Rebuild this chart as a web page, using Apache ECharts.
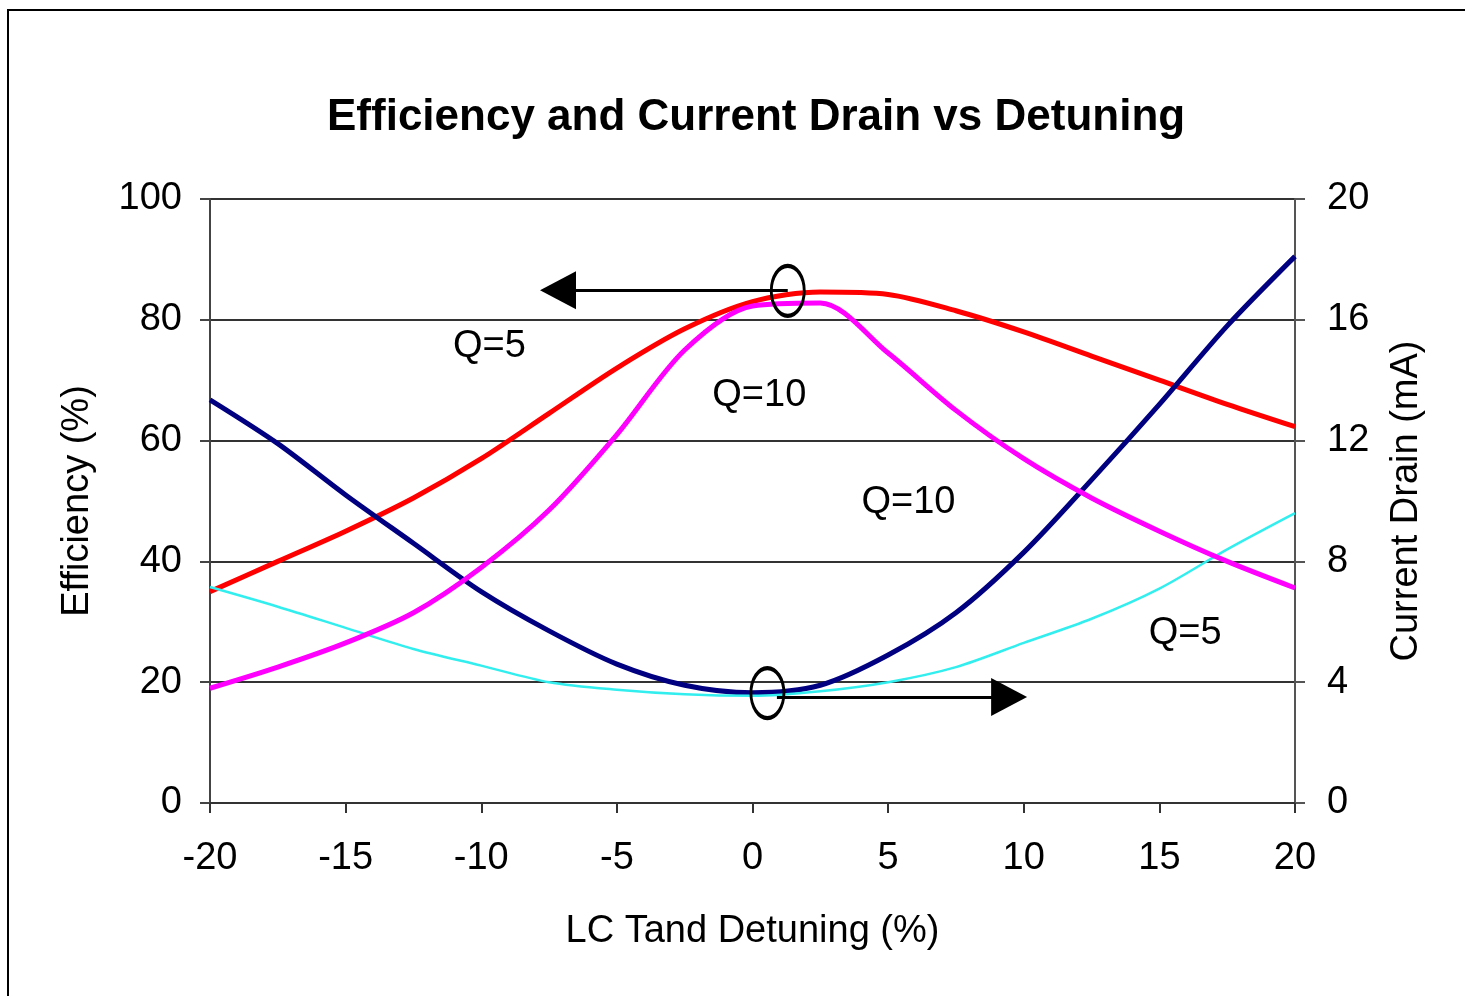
<!DOCTYPE html>
<html>
<head>
<meta charset="utf-8">
<script src="https://cdn.jsdelivr.net/npm/echarts@6/dist/echarts.min.js"></script>
<style>
html,body{margin:0;padding:0;background:#fff;}
#chart{width:1465px;height:996px;}
</style>
</head>
<body>
<div id="chart"></div>
<script>
// ---- data ----
const detuning = [-20, -17.5, -15, -12.5, -10, -7.5, -5, -2.5, 0, 2.5, 5, 7.5, 10, 12.5, 15, 17.5, 20];
const effQ5  = [35, 40, 45, 50.5, 57, 64.5, 72, 78.5, 83, 84.6, 84.2, 81.5, 78, 74, 70, 66, 62.3];
const effQ10 = [19, 22.5, 26.5, 31.5, 39, 48.5, 61, 75, 82.3, 82.8, 74.5, 65, 57, 50.5, 45, 40, 35.6];
const curQ10 = [13.35, 11.9, 10.2, 8.6, 7.0, 5.7, 4.6, 3.9, 3.65, 3.9, 4.9, 6.3, 8.3, 10.7, 13.2, 15.8, 18.1];
const curQ5  = [7.15, 6.5, 5.8, 5.1, 4.55, 4.0, 3.75, 3.6, 3.55, 3.7, 4.0, 4.5, 5.3, 6.1, 7.1, 8.4, 9.6];
const xTicks = [-20, -15, -10, -5, 0, 5, 10, 15, 20];
const effTicks = [0, 20, 40, 60, 80, 100];
const curTicks = [0, 4, 8, 12, 16, 20];
// annotations in data units (x = detuning %, y = efficiency %)
const annotLabels = [
  {text: 'Q=5',  x: -9.7, y: 75.5},
  {text: 'Q=10', x: 0.25, y: 67.4},
  {text: 'Q=10', x: 5.75, y: 49.8},
  {text: 'Q=5',  x: 15.95, y: 28.1}
];
const annotEllipses = [
  {x: 1.3, y: 84.8},
  {x: 0.55, y: 18.2}
];
const annotArrows = [
  {from: [1.3, 84.9], to: [-7.17, 84.9]},
  {from: [0.9, 17.55], to: [9.46, 17.55]}
];

const zip = (xs, ys) => xs.map((x, i) => [x, ys[i]]);
const FONT = '"Liberation Sans", Arial, sans-serif';

const chart = echarts.init(document.getElementById('chart'));
const ellipsePath = 'path://M0,-1 A1,1 0 1,1 0,1 A1,1 0 1,1 0,-1 Z';

const option = {
  animation: false,
  backgroundColor: '#fff',
  title: {
    text: 'Efficiency and Current Drain vs Detuning',
    left: 322, top: 91,
    textStyle: {fontFamily: FONT, fontSize: 44, fontWeight: 'bold', color: '#000'}
  },
  grid: {left: 210, right: 170, top: 199, bottom: 193},
  xAxis: {
    type: 'value', min: -20, max: 20, interval: 5,
    name: 'LC Tand Detuning (%)', nameLocation: 'middle', nameGap: 110,
    nameTextStyle: {fontFamily: FONT, fontSize: 38, color: '#000'},
    axisLine: {show: true, onZero: false, lineStyle: {color: '#333', width: 2}},
    axisTick: {show: true, length: 10, lineStyle: {color: '#333', width: 2}},
    axisLabel: {fontFamily: FONT, fontSize: 38, color: '#000', margin: 37,
      formatter: v => xTicks.includes(v) ? String(v) : ''},
    splitLine: {show: false}
  },
  yAxis: [
    {
      type: 'value', min: 0, max: 100, interval: 20, position: 'left',
      name: 'Efficiency (%)', nameLocation: 'middle', nameGap: 113, nameRotate: 90,
      nameTextStyle: {fontFamily: FONT, fontSize: 38, color: '#000'},
      axisLine: {show: true, onZero: false, lineStyle: {color: '#444', width: 2}},
      axisTick: {show: true, length: 10, lineStyle: {color: '#444', width: 2}},
      axisLabel: {fontFamily: FONT, fontSize: 38, color: '#000', margin: 28,
        formatter: v => effTicks.includes(v) ? String(v) : ''},
      splitLine: {show: true, lineStyle: {color: '#333', width: 2}}
    },
    {
      type: 'value', min: 0, max: 20, interval: 4, position: 'right',
      name: 'Current Drain (mA)', nameLocation: 'middle', nameGap: 93, nameRotate: 90,
      nameTextStyle: {fontFamily: FONT, fontSize: 38, color: '#000'},
      axisLine: {show: true, onZero: false, lineStyle: {color: '#555', width: 2}},
      axisTick: {show: true, length: 10, lineStyle: {color: '#555', width: 2}},
      axisLabel: {fontFamily: FONT, fontSize: 38, color: '#000', margin: 32,
        formatter: v => curTicks.includes(v) ? String(v) : ''},
      splitLine: {show: false}
    }
  ],
  series: [
    {name: 'Efficiency Q=5', type: 'line', yAxisIndex: 0, data: zip(detuning, effQ5),
      smooth: 0.3, showSymbol: false, lineStyle: {color: '#ff0000', width: 5}, z: 3},
    {name: 'Efficiency Q=10', type: 'line', yAxisIndex: 0, data: zip(detuning, effQ10),
      smooth: 0.3, showSymbol: false, lineStyle: {color: '#ff00ff', width: 5}, z: 4},
    {name: 'Current Q=10', type: 'line', yAxisIndex: 1, data: zip(detuning, curQ10),
      smooth: 0.3, showSymbol: false, lineStyle: {color: '#000080', width: 5}, z: 3},
    {name: 'Current Q=5', type: 'line', yAxisIndex: 1, data: zip(detuning, curQ5),
      smooth: 0.3, showSymbol: false, lineStyle: {color: '#33eeee', width: 2.5}, z: 3},
    {
      name: 'annotations', type: 'line', yAxisIndex: 0, data: [], z: 10,
      silent: true,
      markLine: {
        silent: true, animation: false,
        symbol: ['none', 'triangle'], symbolSize: [38, 36],
        label: {show: false},
        lineStyle: {color: '#000', width: 3, type: 'solid'},
        itemStyle: {color: '#000'},
        emphasis: {disabled: true},
        data: annotArrows.map(a => [{coord: a.from}, {coord: a.to}])
      },
      markPoint: {
        silent: true, animation: false,
        data: annotEllipses.map(e => ({
          coord: [e.x, e.y], symbol: ellipsePath, symbolSize: [33, 50],
          itemStyle: {color: 'rgba(0,0,0,0)', borderColor: '#000', borderWidth: 3.5},
          label: {show: false}
        })).concat(annotLabels.map(l => ({
          coord: [l.x, l.y], symbol: 'circle', symbolSize: 1,
          itemStyle: {color: 'rgba(0,0,0,0)'},
          label: {show: true, position: 'inside', formatter: l.text,
            fontFamily: FONT, fontSize: 38, color: '#000'}
        })))
      }
    }
  ],
  graphic: [
    {type: 'polyline', shape: {points: [[8, 996], [8, 10], [1465, 10]]},
      style: {stroke: '#000', lineWidth: 2, fill: null}, silent: true}
  ]
};
chart.setOption(option);
</script>
</body>
</html>
